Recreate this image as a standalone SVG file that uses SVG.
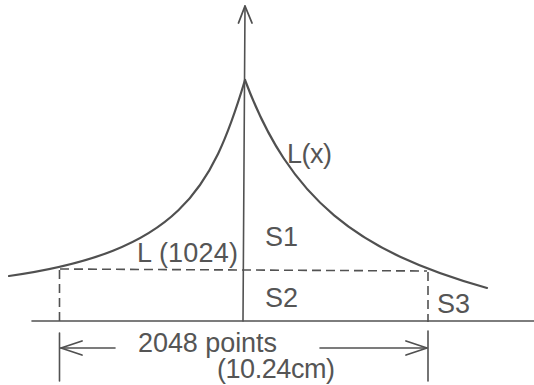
<svg xmlns="http://www.w3.org/2000/svg" width="534" height="385" viewBox="0 0 534 385">
<style>
.ln{fill:none;stroke:#525252;stroke-width:1.6;stroke-linecap:round}
.cv{fill:none;stroke:#505050;stroke-width:2.2;stroke-linecap:round}
.ds{fill:none;stroke:#525252;stroke-width:1.6;stroke-dasharray:9 5}
.ah{fill:none;stroke:#505050;stroke-width:1.8;stroke-linecap:round;stroke-linejoin:round}
text{font-family:"Liberation Sans",Arial,sans-serif;font-size:27px;fill:#555}
</style>
<rect width="534" height="385" fill="#fff"/>
<g id="connectors">
<line class="ln" x1="32" y1="321" x2="534" y2="321"/>
<line class="ln" x1="245" y1="6" x2="243" y2="321"/>
<path class="ah" d="M238.5,23 L245,6 L252,23"/>
<path class="cv" d="M245,80 C212,190 179,252 9,276"/>
<path class="cv" d="M245,80 C290,200 357,251.6 487,288"/>
<line class="ds" x1="60" y1="269" x2="427" y2="271"/>
<line class="ds" x1="59.5" y1="270" x2="59.5" y2="321"/>
<line class="ds" x1="428" y1="272" x2="428" y2="322"/>
<line class="ln" x1="59.5" y1="333" x2="59.5" y2="381"/>
<line class="ln" x1="428" y1="331" x2="428" y2="381"/>
<line class="ln" x1="60" y1="348" x2="115" y2="348"/>
<path class="ah" d="M82,341 L61,348 L82,355"/>
<line class="ln" x1="320" y1="348" x2="427" y2="348"/>
<path class="ah" d="M406,341 L427,348 L406,355"/>
</g>
<g id="label-Lx"><text x="287" y="163" textLength="45">L(x)</text></g>
<g id="label-L1024"><text x="137" y="262" textLength="101">L (1024)</text></g>
<g id="label-S1"><text x="265" y="246">S1</text></g>
<g id="label-S2"><text x="265" y="307">S2</text></g>
<g id="label-S3"><text x="437" y="313">S3</text></g>
<g id="label-points"><text x="138" y="352" textLength="139">2048 points</text></g>
<g id="label-cm"><text x="217" y="378" textLength="118">(10.24cm)</text></g>
</svg>
